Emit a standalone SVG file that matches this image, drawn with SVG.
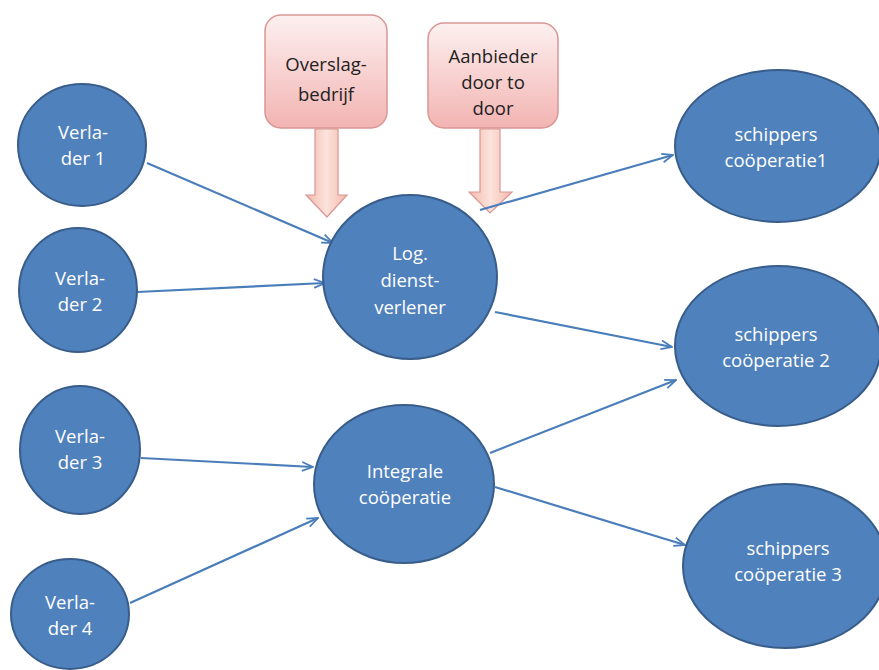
<svg xmlns="http://www.w3.org/2000/svg" width="879" height="670" viewBox="0 0 879 670">
<defs>
<linearGradient id="pink" x1="0" y1="0" x2="0" y2="1">
<stop offset="0" stop-color="#fdf0f0"/>
<stop offset="1" stop-color="#f2b4b2"/>
</linearGradient>
<linearGradient id="pinkArrow" x1="0" y1="0" x2="1" y2="0">
<stop offset="0" stop-color="#f4b9ac"/>
<stop offset="0.5" stop-color="#fbe3dc"/>
<stop offset="1" stop-color="#f4b9ac"/>
</linearGradient>
<marker id="arr" viewBox="0 0 12 10" refX="11" refY="5" markerWidth="6" markerHeight="5" orient="auto" markerUnits="strokeWidth">
<path d="M1,1 L11,5 L1,9" fill="none" stroke="#4a7ebb" stroke-width="1.6" stroke-linejoin="miter"/>
</marker>
<style>
.node{fill:#4f81bd;stroke:#385d8a;stroke-width:2}
.lbl{font-family:"Open Sans","Liberation Sans",sans-serif;font-size:18.5px;fill:#ffffff;text-anchor:middle}
.plbl{font-family:"Open Sans","Liberation Sans",sans-serif;font-size:18.5px;fill:#222222;text-anchor:middle}
.box{fill:url(#pink);stroke:#d99694;stroke-width:1.5}
.parr{fill:url(#pinkArrow);stroke:#d99694;stroke-width:1.2}
.conn line{stroke:#4a7ebb;stroke-width:2.2;marker-end:url(#arr)}
</style>
</defs>
<rect width="879" height="670" fill="#ffffff"/>

<g id="overslag">
<rect class="box" x="265" y="15" width="122" height="113" rx="16"/>
<path class="parr" d="M315,129 L338,129 L338,195 L347,195 L327,217 L306,195 L315,195 Z"/>
<text class="plbl" x="326" y="71">Overslag-</text>
<text class="plbl" x="326" y="101">bedrijf</text>
</g>
<g id="aanbieder">
<rect class="box" x="428" y="23" width="130" height="105" rx="16"/>
<path class="parr" d="M480,129 L500,129 L500,192 L512,192 L490,213 L469,192 L480,192 Z"/>
<text class="plbl" x="493" y="63">Aanbieder</text>
<text class="plbl" x="493" y="89">door to</text>
<text class="plbl" x="493" y="115">door</text>
</g>

<g class="conn" id="connectors">
<line x1="147" y1="163" x2="333" y2="243"/>
<line x1="137" y1="292" x2="325" y2="283"/>
<line x1="141" y1="458" x2="313" y2="467"/>
<line x1="130" y1="603" x2="318" y2="518"/>
<line x1="480" y1="210" x2="673" y2="155"/>
<line x1="495" y1="312" x2="672" y2="347"/>
<line x1="490" y1="453" x2="676" y2="380"/>
<line x1="495" y1="487" x2="685" y2="545"/>
</g>

<g id="verlader1">
<ellipse class="node" cx="82" cy="145" rx="64" ry="61"/>
<text class="lbl" x="83" y="139">Verla-</text>
<text class="lbl" x="83" y="165">der 1</text>
</g>
<g id="verlader2">
<ellipse class="node" cx="78" cy="290" rx="59" ry="62"/>
<text class="lbl" x="80" y="285">Verla-</text>
<text class="lbl" x="80" y="311">der 2</text>
</g>
<g id="verlader3">
<ellipse class="node" cx="80" cy="450" rx="60" ry="64"/>
<text class="lbl" x="80" y="443">Verla-</text>
<text class="lbl" x="80" y="469">der 3</text>
</g>
<g id="verlader4">
<ellipse class="node" cx="70" cy="614" rx="59" ry="55"/>
<text class="lbl" x="70" y="609">Verla-</text>
<text class="lbl" x="70" y="635">der 4</text>
</g>
<g id="logdienstverlener">
<ellipse class="node" cx="410" cy="277" rx="87" ry="82"/>
<text class="lbl" x="410" y="260">Log.</text>
<text class="lbl" x="410" y="287">dienst-</text>
<text class="lbl" x="410" y="314">verlener</text>
</g>
<g id="integrale">
<ellipse class="node" cx="404" cy="484" rx="90" ry="79"/>
<text class="lbl" x="405" y="478">Integrale</text>
<text class="lbl" x="405" y="504">coöperatie</text>
</g>
<g id="schippers1">
<ellipse class="node" cx="778" cy="146" rx="103" ry="76"/>
<text class="lbl" x="776" y="141">schippers</text>
<text class="lbl" x="776" y="167">coöperatie1</text>
</g>
<g id="schippers2">
<ellipse class="node" cx="778" cy="346" rx="103" ry="80"/>
<text class="lbl" x="776" y="341">schippers</text>
<text class="lbl" x="776" y="367">coöperatie 2</text>
</g>
<g id="schippers3">
<ellipse class="node" cx="785" cy="566" rx="102" ry="82"/>
<text class="lbl" x="788" y="555">schippers</text>
<text class="lbl" x="788" y="581">coöperatie 3</text>
</g>
</svg>
